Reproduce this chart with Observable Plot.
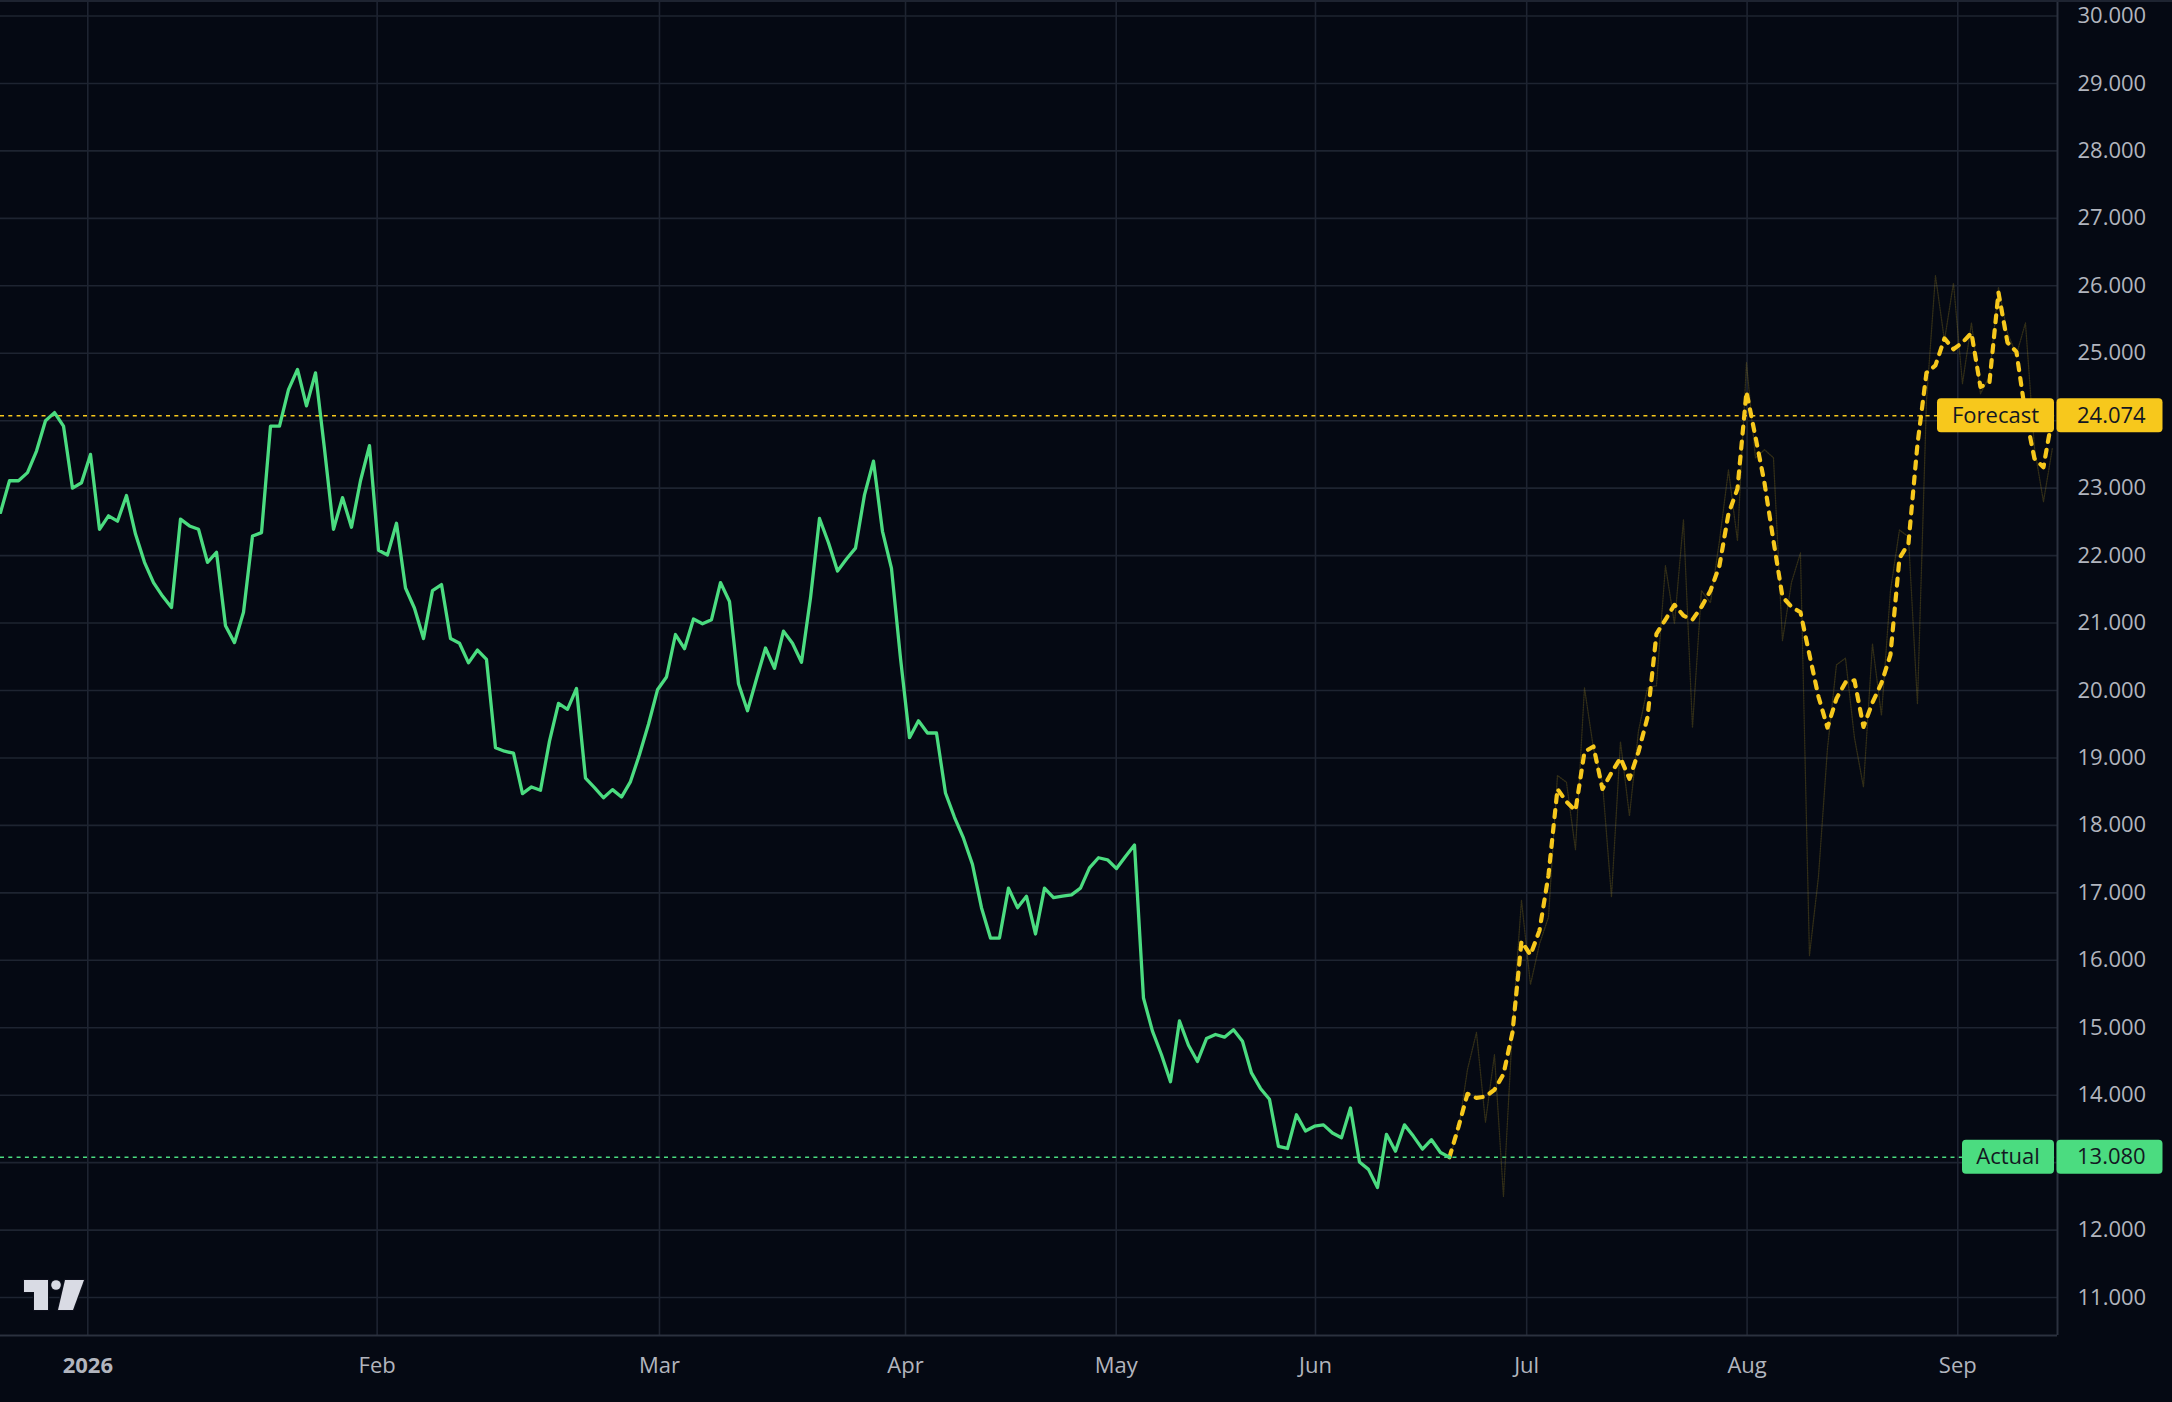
<!DOCTYPE html>
<html>
<head>
<meta charset="utf-8">
<script src="https://cdn.jsdelivr.net/npm/d3@7"></script>
<script src="https://cdn.jsdelivr.net/npm/@observablehq/plot@0.6"></script>
<style>
  html, body { margin: 0; padding: 0; background: #050913; }
  #chart { position: relative; width: 2172px; height: 1402px; overflow: hidden; }
</style>
</head>
<body>
<div id="chart"></div>
<script>
// ---- data (one value per bar) ----
const actual = [
  22.64, 23.11, 23.11, 23.23, 23.55, 24.00, 24.12, 23.92, 23.00, 23.08,
  23.50, 22.39, 22.59, 22.51, 22.89, 22.32, 21.90, 21.60, 21.40, 21.23,
  22.54, 22.44, 22.39, 21.90, 22.05, 20.96, 20.71, 21.16, 22.29, 22.34,
  23.92, 23.92, 24.46, 24.76, 24.22, 24.71, 23.58, 22.39, 22.86, 22.42,
  23.11, 23.63, 22.08, 22.01, 22.48, 21.52, 21.22, 20.77, 21.48, 21.57,
  20.77, 20.70, 20.41, 20.60, 20.46, 19.15, 19.10, 19.07, 18.47, 18.57,
  18.52, 19.25, 19.81, 19.72, 20.03, 18.70, 18.56, 18.41, 18.53, 18.42,
  18.65, 19.05, 19.50, 20.01, 20.20, 20.83, 20.62, 21.06, 20.99, 21.05,
  21.60, 21.32, 20.10, 19.70, 20.17, 20.63, 20.33, 20.88, 20.70, 20.42,
  21.37, 22.55, 22.19, 21.77, 21.95, 22.11, 22.90, 23.40, 22.36, 21.81,
  20.48, 19.30, 19.55, 19.37, 19.37, 18.48, 18.12, 17.81, 17.42, 16.78,
  16.33, 16.33, 17.07, 16.78, 16.95, 16.39, 17.07, 16.93, 16.95, 16.97,
  17.07, 17.37, 17.52, 17.49, 17.36, 17.54, 17.71, 15.44, 14.95, 14.60,
  14.20, 15.10, 14.74, 14.50, 14.84, 14.90, 14.86, 14.97, 14.80, 14.33,
  14.10, 13.94, 13.24, 13.21, 13.71, 13.47, 13.54, 13.56, 13.44, 13.37,
  13.81, 13.01, 12.90, 12.63, 13.42, 13.17, 13.56, 13.39, 13.20, 13.34,
  13.15, 13.08
];
const forecastStart = 161; // bar where the forecast begins (last actual bar)
const forecast = [
  13.08, 13.53, 14.02, 13.96, 13.98, 14.08, 14.31, 14.93, 16.28, 16.08,
  16.44, 17.26, 18.54, 18.35, 18.22, 19.09, 19.17, 18.54, 18.78, 19.00,
  18.69, 19.09, 19.60, 20.84, 21.05, 21.27, 21.11, 21.05, 21.24, 21.48,
  21.85, 22.62, 22.99, 24.43, 23.76, 23.08, 22.22, 21.39, 21.24, 21.16,
  20.53, 19.91, 19.45, 19.88, 20.12, 20.15, 19.46, 19.82, 20.11, 20.53,
  21.96, 22.18, 23.65, 24.71, 24.82, 25.22, 25.06, 25.16, 25.30, 24.50,
  24.57, 25.90, 25.16, 25.02, 24.10, 23.44, 23.31, 24.07
];
const forecastPath = [
  13.08, 13.48, 14.38, 14.93, 13.60, 14.60, 12.50, 15.00, 16.89, 15.64,
  16.24, 16.64, 18.74, 18.64, 17.64, 20.04, 19.14, 18.64, 16.94, 19.24,
  18.14, 19.40, 20.04, 20.07, 21.85, 20.99, 22.53, 19.45, 21.48, 21.30,
  22.22, 23.27, 22.22, 24.86, 23.45, 23.57, 23.45, 20.74, 21.60, 22.04,
  16.07, 17.24, 19.14, 20.38, 20.48, 19.30, 18.57, 20.69, 19.63, 21.48,
  22.38, 22.28, 19.80, 24.29, 26.15, 25.19, 26.04, 24.55, 25.45, 24.40,
  24.66, 25.98, 25.30, 24.98, 25.45, 23.60, 22.80, 23.60
];
const monthBars   = [9.70, 41.85, 73.22, 100.56, 123.97, 146.11, 169.58, 194.07, 217.48];
const monthLabels = ["2026", "Feb", "Mar", "Apr", "May", "Jun", "Jul", "Aug", "Sep"];
const yTicks = [11, 12, 13, 14, 15, 16, 17, 18, 19, 20, 21, 22, 23, 24, 25, 26, 27, 28, 29, 30];
const lastActual = 13.080;
const lastForecast = 24.074;
const xDomain = [0, 228.56];
const yDomain = [10.437, 30.23];

// ---- tables for the library ----
const actualRows = actual.map((v, i) => ({bar: i, value: v}));
const forecastRows = forecast.map((v, i) => ({bar: forecastStart + i, value: v}));
const pathRows = forecastPath.map((v, i) => ({bar: forecastStart + i, value: v}));
const labelOf = new Map(monthBars.map((b, i) => [b, monthLabels[i]]));
// tick labels hidden under the value tags are not drawn (as in the reference)
const yTickLabels = yTicks.filter(t => Math.abs(t - lastForecast) > 0.4 && Math.abs(t - lastActual) > 0.4);

const BG = "#050913";
const GRID = "#1e2431";
const GREEN = "#4bdc80";
const YELLOW = "#f7c81c";
const TEXT = "#b2b5be";
const FONT = "'Open Sans', 'Noto Sans', sans-serif";

function tags(index, scales, values, dims) {
  const g = d3.create("svg:g").attr("font-family", FONT).attr("font-size", 22);
  const xr = dims.width - dims.marginRight;
  g.append("line").attr("x1", 0).attr("x2", dims.width).attr("y1", 1).attr("y2", 1)
    .attr("stroke", GRID).attr("stroke-width", 2);
  const items = [
    {label: "Forecast", value: lastForecast, fill: YELLOW, w: 117},
    {label: "Actual", value: lastActual, fill: GREEN, w: 92}
  ];
  for (const t of items) {
    const y = scales.y(t.value);
    g.append("rect").attr("x", xr - 3 - t.w).attr("y", y - 17).attr("width", t.w).attr("height", 34)
      .attr("rx", 4).attr("fill", t.fill);
    g.append("rect").attr("x", xr - 0.5).attr("y", y - 17).attr("width", 106).attr("height", 34)
      .attr("rx", 4).attr("fill", t.fill);
    g.append("text").attr("x", xr - 3 - t.w / 2).attr("y", y).attr("dy", "0.35em")
      .attr("text-anchor", "middle").attr("fill", "#131722").text(t.label);
    g.append("text").attr("x", xr + 20).attr("y", y).attr("dy", "0.35em")
      .attr("text-anchor", "start").attr("fill", "#131722").text(t.value.toFixed(3));
  }
  const lg = g.append("g").attr("fill", "#d9dbe4").attr("stroke", "#0c0f1a").attr("stroke-width", 2.5)
    .attr("paint-order", "stroke");
  const by = dims.height - dims.marginBottom;
  lg.append("path").attr("d", `M24,${by-55} H48 V${by-25} H34 V${by-43} H24 Z`);
  lg.append("circle").attr("cx", 56).attr("cy", by - 50).attr("r", 4.8);
  lg.append("path").attr("d", `M65,${by-55} H84 L73,${by-25} H58 Z`);
  return g.node();
}

const chart = Plot.plot({
  width: 2172,
  height: 1402,
  marginLeft: 0,
  marginTop: 0,
  marginRight: 115,
  marginBottom: 67,
  style: {background: BG, fontFamily: FONT, fontSize: "22px", color: TEXT},
  x: {domain: xDomain, axis: null},
  y: {domain: yDomain, axis: null},
  marks: [
    Plot.gridY(yTicks, {stroke: GRID, strokeOpacity: 1, strokeWidth: 1.6}),
    Plot.gridX(monthBars, {stroke: GRID, strokeOpacity: 1, strokeWidth: 1.6}),
    Plot.ruleY([lastForecast], {stroke: YELLOW, strokeWidth: 1.6, strokeDasharray: "4,4.3"}),
    Plot.ruleY([lastActual], {stroke: GREEN, strokeWidth: 1.6, strokeDasharray: "4,4.3"}),
    Plot.line(pathRows, {x: "bar", y: "value", stroke: "#9a8420", strokeOpacity: 0.3, strokeWidth: 1.3, strokeDasharray: "1.2,1.3", curve: "linear"}),
    Plot.line(forecastRows, {x: "bar", y: "value", stroke: YELLOW, strokeWidth: 4.2, strokeDasharray: "7,8", curve: "linear"}),
    Plot.line(actualRows, {x: "bar", y: "value", stroke: GREEN, strokeWidth: 3.3, curve: "linear"}),
    Plot.ruleX([xDomain[1]], {stroke: "#2b313e", strokeWidth: 2}),
    Plot.ruleY([yDomain[0]], {stroke: "#2b313e", strokeWidth: 2}),
    Plot.axisY(yTickLabels, {anchor: "right", tickSize: 0, tickPadding: 20, tickFormat: d => d.toFixed(3), fill: TEXT, fontSize: 22, label: null}),
    Plot.axisX(monthBars.slice(0, 1), {anchor: "bottom", tickSize: 0, tickPadding: 22, tickFormat: d => labelOf.get(d), fill: TEXT, fontSize: 22, fontWeight: "bold", label: null}),
    Plot.axisX(monthBars.slice(1), {anchor: "bottom", tickSize: 0, tickPadding: 22, tickFormat: d => labelOf.get(d), fill: TEXT, fontSize: 22, label: null}),
    tags
  ]
});
document.getElementById("chart").appendChild(chart);
</script>
</body>
</html>
